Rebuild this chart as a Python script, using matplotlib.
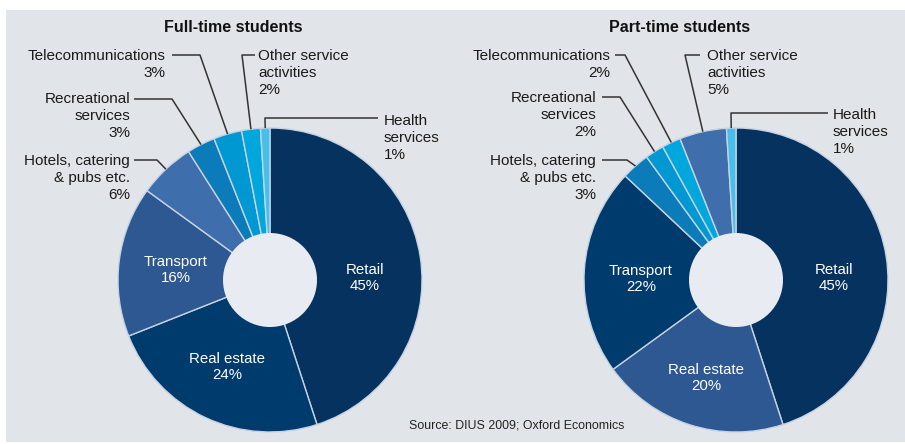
import numpy as np
import matplotlib.pyplot as plt
from matplotlib.patches import Rectangle, Circle

plt.rcParams['font.family'] = ['Liberation Sans', 'DejaVu Sans']

# data
sectors = ['Retail', 'Real estate', 'Transport', 'Hotels, catering\n& pubs etc.',
           'Recreational\nservices', 'Telecommunications', 'Other service\nactivities',
           'Health\nservices']
full_time = [45, 24, 16, 6, 3, 3, 2, 1]
part_time = [45, 20, 22, 3, 2, 2, 5, 1]

# colours follow the rank of each sector inside its chart
full_colors = ['#05325f', '#003b6e', '#2e5891', '#3e6eab', '#0b7bb9', '#0098d2', '#00a7dd', '#46c0ea']
part_colors = ['#05325f', '#2e5891', '#003b6e', '#0b7bb9', '#0098d2', '#00a7dd', '#3e6eab', '#46c0ea']

BG = '#e1e5e9'
HOLE = '#e9ebf2'
R = 152
R_HOLE = 47

fig = plt.figure(figsize=(9.05, 4.44), dpi=100)
ax = fig.add_axes([0, 0, 1, 1])
ax.add_patch(Rectangle((6, 10), 905, 432, facecolor=BG, edgecolor='none', zorder=0))


def slice_point(values, i, cx, cy):
    # point on the outer rim at the middle of slice i (clockwise from top, y down)
    cum = np.cumsum(values)
    mid = (cum[i] - values[i] / 2) / sum(values) * 2 * np.pi
    return cx + R * np.sin(mid), cy - R * np.cos(mid)


def draw_donut(values, colors, cx, cy, title, tx, inner, outer):
    # y axis is inverted, so counterclock=True draws clockwise on screen
    ax.pie(values, colors=colors, center=(cx, cy), radius=R, startangle=-90,
           counterclock=True,
           wedgeprops=dict(edgecolor='#c6d3e3', linewidth=1.0))
    ax.add_patch(Circle((cx, cy), R_HOLE, facecolor=HOLE, edgecolor='none', zorder=5))
    ax.text(tx, 28, title, fontsize=11.5, fontweight='bold', ha='center', va='center',
            color='#111111')
    for i, (x, y) in inner.items():
        ax.text(x, y, f'{sectors[i]}\n{values[i]}%', color='white', fontsize=10.8,
                ha='center', va='center', linespacing=1.25, zorder=6)
    for i, (text_xy, ha, line_pts) in outer.items():
        px, py = slice_point(values, i, cx, cy)
        xs = [p[0] for p in line_pts] + [px]
        ys = [p[1] for p in line_pts] + [py]
        ax.plot(xs, ys, color='#333333', lw=1.1, solid_capstyle='butt', zorder=4)
        ax.text(text_xy[0], text_xy[1] + 2, f'{sectors[i]}\n{values[i]}%', fontsize=11,
                ha=ha, va='top', multialignment=ha, linespacing=1.28, color='#1a1a1a')


draw_donut(full_time, full_colors, 270, 280, 'Full-time students', 233,
           inner={0: (365, 278), 1: (227, 367), 2: (176, 270)},
           outer={3: ((130, 152), 'right', [(134, 160), (157, 160)]),
                  4: ((130, 90), 'right', [(134, 99), (172, 99)]),
                  5: ((165, 47), 'right', [(172, 55), (200, 55)]),
                  6: ((258, 47), 'left', [(255, 55), (242, 55)]),
                  7: ((384, 112), 'left', [(378, 118), (265, 118)])})

draw_donut(part_time, part_colors, 736, 280, 'Part-time students', 680,
           inner={0: (834, 278), 1: (706, 378), 2: (641, 279)},
           outer={3: ((596, 152), 'right', [(602, 160), (627, 160)]),
                  4: ((596, 89), 'right', [(602, 97), (620, 97)]),
                  5: ((610, 47), 'right', [(615, 55), (625, 55)]),
                  6: ((707, 47), 'left', [(700, 55), (685, 55)]),
                  7: ((833, 106), 'left', [(828, 113), (731, 113)])})

ax.text(409, 425, 'Source: DIUS 2009; Oxford Economics', fontsize=8.9, ha='left',
        va='center', color='#222222')

ax.set_xlim(0, 905)
ax.set_ylim(444, 0)
ax.set_aspect('equal')
ax.axis('off')

plt.savefig('out.png', dpi=100, facecolor='white')
